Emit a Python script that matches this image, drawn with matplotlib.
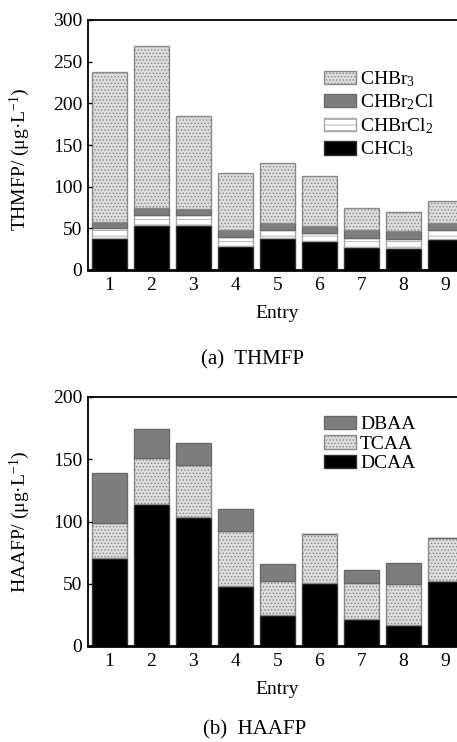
import matplotlib.pyplot as plt
import numpy as np

plt.rcParams['font.family'] = ['Liberation Serif', 'DejaVu Serif']
plt.rcParams['mathtext.fontset'] = 'custom'
plt.rcParams['mathtext.rm'] = 'Liberation Serif'
plt.rcParams['mathtext.it'] = 'Liberation Serif:italic'
plt.rcParams['hatch.linewidth'] = 0.6

entries = ['1', '2', '3', '4', '5', '6', '7', '8', '9']

# THMFP components (ug/L)
chcl3 = [39, 54, 54, 29, 39, 35, 28, 26, 37]
chbrcl2 = [11, 12, 12, 11, 9, 9, 11, 11, 11]
chbr2cl = [8, 8, 7, 8, 9, 9, 9, 10, 9]
chbr3 = [180, 195, 112, 69, 72, 60, 26, 22, 26]

# HAAFP components (ug/L)
dcaa = [71, 114, 104, 48, 25, 51, 22, 17, 52]
tcaa = [28, 37, 41, 44, 27, 39, 29, 33, 35]
dbaa = [40, 23, 18, 18, 14, 0, 10, 17, 0]

W, H = 457, 742
fig = plt.figure(figsize=(W / 100, H / 100), dpi=100)
tf = fig.transFigure

x = np.arange(1, 10)
bw = 0.83
xl = (0.49, 9.6)
ax_w = (xl[1] - xl[0]) * 42 / W
FS = 14

styles = {
    'dots': dict(facecolor='#dcdcdc', hatch='.....', edgecolor='#8a8a8a'),
    'dark': dict(facecolor='#7d7d7d', edgecolor='#6a6a6a'),
    'lines': dict(facecolor='white', hatch='---', edgecolor='#a8a8a8'),
    'black': dict(facecolor='black', edgecolor='#333333'),
}


def stack(ax, series):
    bottom = np.zeros(len(x))
    handles = []
    for vals, st, lab in series:
        b = ax.bar(x, vals, bw, bottom=bottom, linewidth=1.0, label=lab, **styles[st])
        bottom += np.array(vals)
        handles.append(b)
    return handles


def style_axes(ax, ymax, step, ylabel, ylab_y, xlab_y):
    ax.set_xlim(*xl)
    ax.set_ylim(0, ymax)
    ax.set_yticks(np.arange(0, ymax + 1, step))
    ax.set_xticks(x)
    ax.set_xticklabels(entries)
    ax.tick_params(axis='y', direction='in', length=3, width=1, labelsize=FS, pad=4)
    ax.tick_params(axis='x', length=0, labelsize=FS, pad=5)
    ax.spines['left'].set_linewidth(1.3)
    ax.spines['bottom'].set_linewidth(2)
    ax.spines['top'].set_linewidth(1.3)
    ax.spines['right'].set_visible(False)
    ax.set_ylabel(ylabel, fontsize=FS, va='center')
    ax.yaxis.set_label_coords(20 / W, 1 - ylab_y / H, transform=tf)
    ax.set_xlabel('Entry', fontsize=FS, va='center')
    ax.xaxis.set_label_coords(277 / W, 1 - xlab_y / H, transform=tf)


def legend(ax, handles, top, spacing):
    ax.legend(handles=handles, loc='upper left', bbox_to_anchor=(324 / W, 1 - top / H),
              bbox_transform=tf, frameon=False, fontsize=FS, handlelength=1.65,
              handleheight=0.67, handletextpad=0.2, labelspacing=spacing,
              borderpad=0, borderaxespad=0)


# (a) THMFP
ax1 = fig.add_axes([88 / W, 1 - 270 / H, ax_w, 250 / H])
h1 = stack(ax1, [(chcl3, 'black', 'CHCl$_3$'), (chbrcl2, 'lines', 'CHBrCl$_2$'),
                 (chbr2cl, 'dark', 'CHBr$_2$Cl'), (chbr3, 'dots', 'CHBr$_3$')])
style_axes(ax1, 300, 50, 'THMFP/ (μg·L$^{-1}$)', 159, 313)
legend(ax1, h1[::-1], 69, 0.2)
fig.text(253 / W, 1 - 360 / H, '(a)  THMFP', ha='center', va='center', fontsize=15)

# (b) HAAFP
ax2 = fig.add_axes([88 / W, 1 - 646 / H, ax_w, 249 / H])
h2 = stack(ax2, [(dcaa, 'black', 'DCAA'), (tcaa, 'dots', 'TCAA'), (dbaa, 'dark', 'DBAA')])
style_axes(ax2, 200, 50, 'HAAFP/ (μg·L$^{-1}$)', 522, 690)
legend(ax2, h2[::-1], 416, 0.1)
fig.text(255 / W, 1 - 730 / H, '(b)  HAAFP', ha='center', va='center', fontsize=15)

fig.savefig('out.png', dpi=100)
